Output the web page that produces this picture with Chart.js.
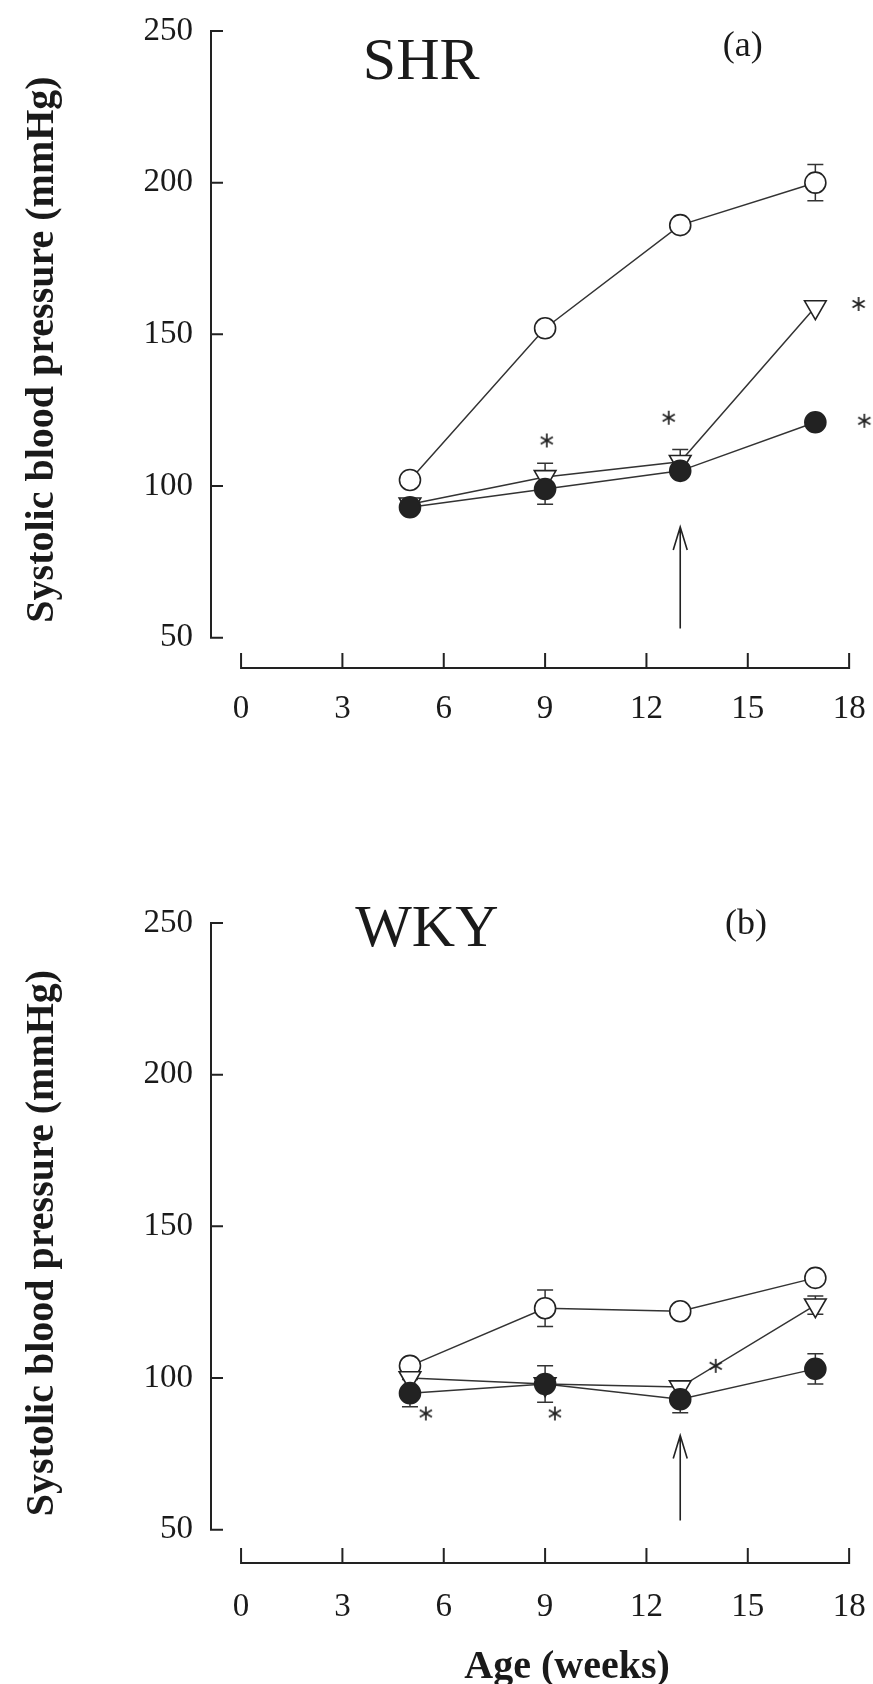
<!DOCTYPE html>
<html>
<head>
<meta charset="utf-8">
<script src="https://cdn.jsdelivr.net/npm/chart.js@4.4.1/dist/chart.umd.min.js"></script>
<style>
  html, body { margin: 0; padding: 0; background: #fff; }
  canvas { display: block; }
</style>
</head>
<body>
<canvas id="shrChart" width="873" height="842"></canvas>
<canvas id="wkyChart" width="873" height="842"></canvas>
<script>
// axis ticks
const xTicks = [0, 3, 6, 9, 12, 15, 18];
const yTicks = [50, 100, 150, 200, 250];
const weeks = [5, 9, 13, 17];

// SHR panel (a)
const shrOpen = [102, 152, 186, 200];
const shrOpenErr = [0, 0, 0, 6];
const shrTri = [94, 103, 108, 159];
const shrTriErr = [0, 4.5, 4, 0];
const shrFilled = [93, 99, 105, 121];
const shrFilledErr = [0, 5, 0, 0];
const shrStarX = [9.05, 12.66, 18.28, 18.45];
const shrStarY = [115, 122.5, 160, 121.5];
const shrArrow = [13, 53, 86.5];

// WKY panel (b)
const wkyOpen = [104, 123, 122, 133];
const wkyOpenErr = [0, 6, 0, 0];
const wkyTri = [100, 98, 97, 124];
const wkyTriErr = [0, 0, 2, 3];
const wkyFilled = [95, 98, 93, 103];
const wkyFilledErr = [4.5, 6, 4.5, 5];
const wkyStarX = [5.47, 9.29, 14.05];
const wkyStarY = [88.3, 88.3, 104];
const wkyArrow = [13, 53, 81];

const FONT = "'Liberation Serif', 'Times New Roman', serif";
const INK = '#1a1a1a';

function makeAsterisk() {
    const c = document.createElement('canvas');
    c.width = 18; c.height = 18;
    const g = c.getContext('2d');
    g.strokeStyle = '#222';
    g.lineWidth = 1.7;
    for (let k = 0; k < 3; k++) {
        const a = Math.PI / 2 + k * Math.PI / 3;
        g.beginPath();
        g.moveTo(9 + Math.cos(a) * 7, 9 + Math.sin(a) * 7);
        g.lineTo(9 - Math.cos(a) * 7, 9 - Math.sin(a) * 7);
        g.stroke();
    }
    return c;
}
const asterisk = makeAsterisk();

const toPoints = (xs, ys) => xs.map((x, i) => ({ x: x, y: ys[i] }));

// axes, error bars, arrow and panel labels
const panelDecor = {
    id: 'panelDecor',
    beforeDatasetsDraw(chart) {
        const { ctx, chartArea, scales: { x, y } } = chart;
        ctx.save();
        ctx.strokeStyle = '#222';
        ctx.lineWidth = 2;
        ctx.beginPath();
        const left = chartArea.left;
        ctx.moveTo(left, y.getPixelForValue(yTicks[yTicks.length - 1]));
        ctx.lineTo(left, y.getPixelForValue(yTicks[0]));
        yTicks.forEach(v => {
            const py = y.getPixelForValue(v);
            ctx.moveTo(left - 1, py);
            ctx.lineTo(left + 12, py);
        });
        const base = chartArea.bottom;
        ctx.moveTo(x.getPixelForValue(xTicks[0]) - 1, base);
        ctx.lineTo(x.getPixelForValue(xTicks[xTicks.length - 1]) + 1, base);
        xTicks.forEach(v => {
            const px = x.getPixelForValue(v);
            ctx.moveTo(px, base);
            ctx.lineTo(px, base - 15);
        });
        ctx.stroke();

        ctx.lineWidth = 1.5;
        ctx.strokeStyle = '#333';
        chart.data.datasets.forEach((ds, i) => {
            if (!ds.err) return;
            const meta = chart.getDatasetMeta(i);
            meta.data.forEach((pt, j) => {
                const e = ds.err[j];
                if (!e) return;
                const v = ds.data[j].y;
                const top = y.getPixelForValue(v + e);
                const bot = y.getPixelForValue(v - e);
                ctx.beginPath();
                ctx.moveTo(pt.x, top); ctx.lineTo(pt.x, bot);
                ctx.moveTo(pt.x - 8, top); ctx.lineTo(pt.x + 8, top);
                ctx.moveTo(pt.x - 8, bot); ctx.lineTo(pt.x + 8, bot);
                ctx.stroke();
            });
        });
        ctx.restore();
    },
    afterDatasetsDraw(chart, args, opts) {
        const { ctx, scales: { x, y } } = chart;
        ctx.save();
        if (opts.arrow) {
            const ax = x.getPixelForValue(opts.arrow[0]);
            const y0 = y.getPixelForValue(opts.arrow[1]);
            const y1 = y.getPixelForValue(opts.arrow[2]);
            ctx.strokeStyle = '#222';
            ctx.lineWidth = 1.6;
            ctx.beginPath();
            ctx.moveTo(ax, y0); ctx.lineTo(ax, y1);
            ctx.moveTo(ax - 7, y1 + 23); ctx.lineTo(ax, y1); ctx.lineTo(ax + 7, y1 + 23);
            ctx.stroke();
        }
        ctx.fillStyle = INK;
        ctx.textAlign = 'center';
        ctx.textBaseline = 'middle';
        (opts.labels || []).forEach(l => {
            ctx.font = (l.weight || 'normal') + ' ' + l.size + 'px ' + FONT;
            ctx.fillText(l.text, x.getPixelForValue(l.x), y.getPixelForValue(l.y));
        });
        ctx.restore();
    }
};

function createPanel(canvasId, open, openErr, tri, triErr, filled, filledErr, starX, starY, arrow, labels, topPad, yMin, xAxisHeight, xLabelPad) {
    const ctx = document.getElementById(canvasId).getContext('2d');
    const lineBase = {
        type: 'line',
        borderColor: '#333',
        borderWidth: 1.5,
        pointBorderColor: '#222',
        pointBorderWidth: 1.6,
        tension: 0,
        clip: false
    };
    return new Chart(ctx, {
        type: 'line',
        data: {
            datasets: [{
                ...lineBase,
                label: 'filled',
                data: toPoints(weeks, filled),
                err: filledErr,
                pointStyle: 'circle',
                pointRadius: 10.5,
                pointBackgroundColor: '#222',
                order: 1
            }, {
                ...lineBase,
                label: 'triangle',
                data: toPoints(weeks, tri),
                err: triErr,
                pointStyle: 'triangle',
                pointRotation: 180,
                pointRadius: 12.5,
                pointBackgroundColor: '#fff',
                order: 2
            }, {
                ...lineBase,
                label: 'open',
                data: toPoints(weeks, open),
                err: openErr,
                pointStyle: 'circle',
                pointRadius: 10.5,
                pointBackgroundColor: '#fff',
                order: 3
            }, {
                type: 'scatter',
                label: 'significance',
                data: toPoints(starX, starY),
                showLine: false,
                pointStyle: asterisk,
                pointRadius: 7,
                clip: false,
                order: 0
            }]
        },
        options: {
            responsive: false,
            animation: false,
            devicePixelRatio: 1,
            layout: { autoPadding: false, padding: { top: topPad, right: 3.6, left: 0, bottom: 0 } },
            plugins: {
                legend: { display: false },
                tooltip: { enabled: false },
                panelDecor: { arrow: arrow, labels: labels }
            },
            scales: {
                x: {
                    type: 'linear',
                    min: -0.89,
                    max: 18.6,
                    afterBuildTicks: s => { s.ticks = xTicks.map(v => ({ value: v })); },
                    afterFit: s => {
                        s.height = xAxisHeight;
                        s.paddingLeft = 0;
                        s.paddingRight = 0;
                    },
                    grid: { display: false, drawTicks: false },
                    border: { display: false },
                    ticks: {
                        padding: xLabelPad,
                        color: INK,
                        font: { family: FONT, size: 33 },
                        maxRotation: 0
                    }
                },
                y: {
                    type: 'linear',
                    min: yMin,
                    max: 250,
                    afterBuildTicks: s => { s.ticks = yTicks.map(v => ({ value: v })); },
                    afterFit: s => {
                        s.width = 211;
                        s.paddingTop = 0;
                        s.paddingBottom = 0;
                    },
                    grid: { display: false, drawTicks: false },
                    border: { display: false },
                    ticks: {
                        padding: 18,
                        color: INK,
                        font: { family: FONT, size: 33 }
                    },
                    title: {
                        display: true,
                        text: 'Systolic blood pressure (mmHg)',
                        color: INK,
                        font: { family: FONT, size: 40, weight: 'bold' },
                        padding: { top: 19, bottom: 0 }
                    }
                }
            }
        },
        plugins: [panelDecor]
    });
}

createPanel('shrChart', shrOpen, shrOpenErr, shrTri, shrTriErr, shrFilled, shrFilledErr,
    shrStarX, shrStarY, shrArrow,
    [{ text: 'SHR', x: 5.33, y: 239.5, size: 60 },
     { text: '(a)', x: 14.85, y: 245, size: 36 }],
    31, 40, 174, 22);

createPanel('wkyChart', wkyOpen, wkyOpenErr, wkyTri, wkyTriErr, wkyFilled, wkyFilledErr,
    wkyStarX, wkyStarY, wkyArrow,
    [{ text: 'WKY', x: 5.5, y: 247.5, size: 60 },
     { text: '(b)', x: 14.95, y: 249.5, size: 36 },
     { text: 'Age (weeks)', x: 9.65, y: 4.4, size: 40, weight: 'bold' }],
    81, 39, 121, 25);
</script>
</body>
</html>
